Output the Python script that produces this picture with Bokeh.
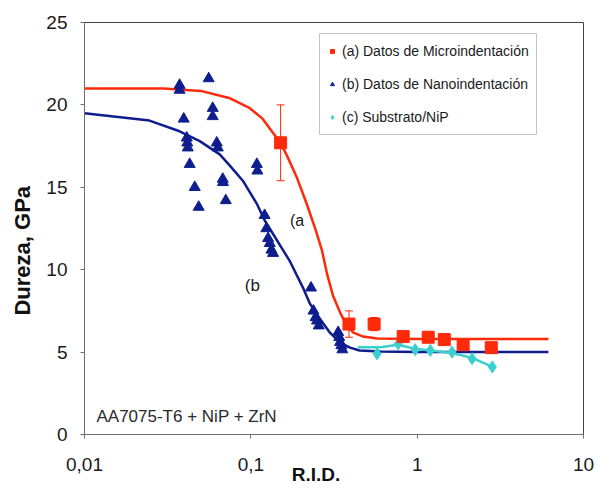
from bokeh.plotting import figure
from bokeh.models import (ColumnDataSource, Whisker, TeeHead, Label, Legend, LegendItem,
                          FixedTicker, LogAxis, LinearAxis)
from bokeh.embed import file_html
from bokeh.resources import INLINE

# ---- data ----
# (a) microindentation
red_x = [0.151, 0.389, 0.551, 0.824, 1.165, 1.455, 1.89, 2.79]
red_y = [17.7, 6.7, 6.7, 5.94, 5.9, 5.76, 5.45, 5.27]
red_err_x = [0.151, 0.389, 0.551]
red_err_y = [17.7, 6.7, 6.7]
red_err = [2.3, 0.8, 0.4]
red_fit_x = [0.01, 0.03, 0.05, 0.075, 0.0986, 0.118, 0.136, 0.151, 0.167, 0.189, 0.2166,
             0.2464, 0.268, 0.287, 0.312, 0.344, 0.373, 0.411, 0.473, 0.574, 1.0, 6.15]
red_fit_y = [21.0, 21.0, 20.85, 20.4, 19.8, 19.15, 18.3, 17.7, 16.8, 15.6, 14.0,
             12.36, 11.15, 9.76, 8.42, 7.4, 6.73, 6.2, 5.94, 5.82, 5.8, 5.8]

# (b) nanoindentation
blue_x = [0.0373, 0.0373, 0.0558, 0.0395, 0.059, 0.059,
          0.0412, 0.0415, 0.0418, 0.0429, 0.046, 0.0486,
          0.0624, 0.0633, 0.0678, 0.068, 0.0707,
          0.1087, 0.1095,
          0.121, 0.124, 0.127, 0.130, 0.133, 0.136,
          0.230, 0.238, 0.245, 0.25, 0.256,
          0.335, 0.34, 0.344, 0.35, 0.355]
blue_y = [21.2, 20.9, 21.6, 19.15, 19.8, 19.3,
          18.0, 17.7, 17.4, 16.4, 15.0, 13.8,
          17.7, 17.4, 15.5, 15.3, 14.2,
          16.4, 16.0,
          13.3, 12.5, 11.9, 11.6, 11.2, 11.0,
          8.9, 7.5, 7.1, 6.9, 6.6,
          6.2, 5.9, 5.6, 5.4, 5.15]
blue_fit_x = [0.01, 0.0246, 0.0373, 0.0493, 0.065, 0.075, 0.0895, 0.1087, 0.121, 0.172,
              0.206, 0.2266, 0.26, 0.299, 0.344, 0.395, 0.45, 0.6, 1.0, 6.15]
blue_fit_y = [19.5, 19.05, 18.4, 17.8, 17.0, 16.3, 15.4, 14.0, 13.0, 10.5,
              8.9, 7.94, 7.03, 6.18, 5.58, 5.27, 5.1, 5.03, 5.0, 5.0]

# (c) substrate / NiP
cyan_x = [0.574, 0.769, 0.973, 1.2, 1.62, 2.14, 2.83]
cyan_y = [4.9, 5.5, 5.15, 5.1, 5.0, 4.6, 4.1]
cyan_line_x = [0.44, 0.6, 0.77, 0.97, 1.2, 1.62, 2.14, 2.83]
cyan_line_y = [5.3, 5.3, 5.45, 5.2, 5.1, 4.95, 4.65, 4.1]

x_ticks = [0.01, 0.1, 1, 10]
x_tick_labels = ["0,01", "0,1", "1", "10"]
y_ticks = [0, 5, 10, 15, 20, 25]

x_title = "R.I.D."
x_title_pos = 0.2466
y_title = "Dureza, GPa"
y_title_pos = 11.15

legend_labels = ["(a) Datos de Microindentación", "(b) Datos de Nanoindentación",
                 "(c) Substrato/NiP"]

RED = "#FF2A0A"
NAVY = "#0F1E8E"
CYAN = "#3CCFCF"
FONT = "Liberation Sans"

p = figure(width=596, height=489, x_axis_type="log", x_range=(0.01, 10), y_range=(0, 25),
           output_backend="svg", toolbar_location=None,
           min_border_left=84, min_border_right=13, min_border_top=22, min_border_bottom=55)
p.background_fill_color = "white"
p.border_fill_color = "white"
p.outline_line_color = "#444444"
p.outline_line_width = 1
p.grid.visible = False

# axes
p.xaxis.ticker = FixedTicker(ticks=x_ticks)
p.xaxis.major_label_overrides = {t: l for t, l in zip(x_ticks, x_tick_labels)}
p.yaxis.ticker = FixedTicker(ticks=y_ticks)
for ax in (p.xaxis, p.yaxis):
    ax.axis_line_color = "#6e6e6e"
    ax.major_tick_line_color = "#6e6e6e"
    ax.minor_tick_line_color = None
    ax.major_tick_in = 0
    ax.major_tick_out = 4
    ax.major_label_text_font = FONT
    ax.major_label_text_font_size = "19px"
    ax.major_label_text_color = "#1a1a1a"
p.xaxis.major_label_standoff = 19
p.yaxis.major_label_standoff = 13

# axis titles placed as single-tick axes
xt = LogAxis(ticker=FixedTicker(ticks=[x_title_pos]),
             major_label_overrides={x_title_pos: x_title},
             axis_line_color=None, major_tick_line_color=None, minor_tick_line_color=None,
             major_tick_in=0, major_tick_out=0, major_label_standoff=-10,
             major_label_text_font=FONT, major_label_text_font_size="19px",
             major_label_text_font_style="bold", major_label_text_color="#111111")
p.add_layout(xt, "below")
yt = LinearAxis(ticker=FixedTicker(ticks=[y_title_pos]),
                major_label_overrides={y_title_pos: y_title},
                major_label_orientation="vertical",
                axis_line_color=None, major_tick_line_color=None, minor_tick_line_color=None,
                major_tick_in=0, major_tick_out=0, major_label_standoff=8,
                major_label_text_font=FONT, major_label_text_font_size="22px",
                major_label_text_font_style="bold", major_label_text_color="#111111")
p.add_layout(yt, "left")

# fitted curves
p.line(red_fit_x, red_fit_y, line_color=RED, line_width=2.5)
p.line(blue_fit_x, blue_fit_y, line_color=NAVY, line_width=2.5)
p.line(cyan_line_x, cyan_line_y, line_color=CYAN, line_width=2.5)

# error bars
esrc = ColumnDataSource(dict(x=red_err_x,
                             upper=[v + e for v, e in zip(red_err_y, red_err)],
                             lower=[v - e for v, e in zip(red_err_y, red_err)]))
p.add_layout(Whisker(base="x", upper="upper", lower="lower", source=esrc,
                     line_color=RED, line_width=1,
                     upper_head=TeeHead(size=8, line_color=RED, line_width=1),
                     lower_head=TeeHead(size=8, line_color=RED, line_width=1)))

# markers
r_cyan = p.scatter(cyan_x, cyan_y, marker="diamond", size=12, fill_color=CYAN, line_color=CYAN)
r_blue = p.scatter(blue_x, blue_y, marker="triangle", size=11, fill_color=NAVY, line_color=NAVY)
r_red = p.scatter(red_x, red_y, marker="square", size=12, fill_color=RED, line_color=RED)

# legend
legend = Legend(items=[LegendItem(label=legend_labels[0], renderers=[r_red]),
                       LegendItem(label=legend_labels[1], renderers=[r_blue]),
                       LegendItem(label=legend_labels[2], renderers=[r_cyan])],
                location=(235, 299), orientation="vertical",
                label_text_font=FONT, label_text_font_size="14px", label_text_color="#1a1a1a",
                glyph_width=10, glyph_height=20, label_height=20, label_standoff=5,
                spacing=13, padding=7, margin=0,
                border_line_color="#8a8a8a", border_line_width=1,
                background_fill_color="white", background_fill_alpha=1)
p.add_layout(legend, "center")

# annotations
p.add_layout(Label(x=0.172, y=12.97, text="(a", text_font=FONT, text_font_size="16px",
                   text_color="#1a1a1a", text_baseline="middle", text_align="left"))
p.add_layout(Label(x=0.092, y=9.03, text="(b", text_font=FONT, text_font_size="17px",
                   text_color="#1a1a1a", text_baseline="middle", text_align="left"))
p.add_layout(Label(x=0.0118, y=1.09, text="AA7075-T6 + NiP + ZrN", text_font=FONT,
                   text_font_size="17px", text_color="#2a2a2a", text_baseline="middle",
                   text_align="left"))

open("out.html", "w").write(file_html(p, INLINE))
